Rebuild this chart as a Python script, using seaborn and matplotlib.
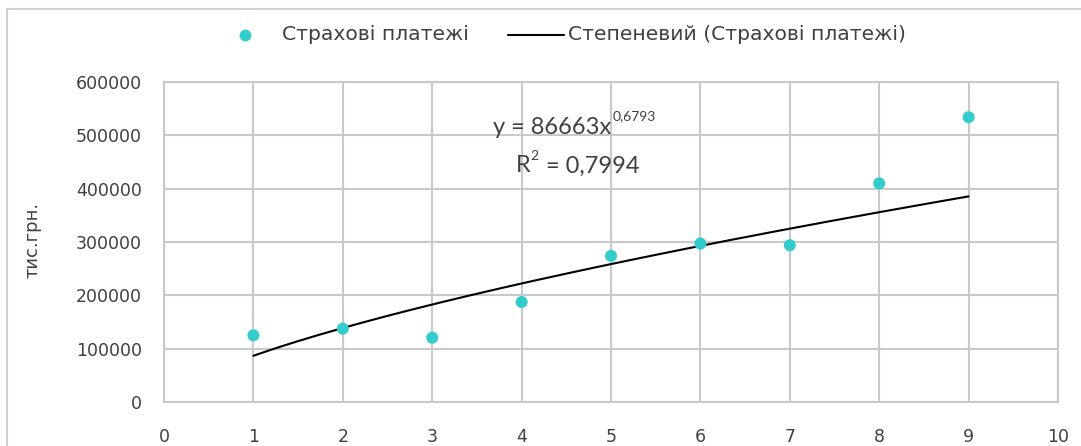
import matplotlib
matplotlib.use("Agg")
import matplotlib.pyplot as plt
from matplotlib.lines import Line2D
from matplotlib.patches import Rectangle
import numpy as np
import pandas as pd
import seaborn as sns

# Insurance payments by period (thousand UAH)
periods = [1, 2, 3, 4, 5, 6, 7, 8, 9]
payments = [125000, 137500, 120600, 187500, 274000, 297000, 294000, 410000, 534000]

# Power trendline coefficients
trend_a = 86663
trend_b = 0.6793
r_squared = "0,7994"

series_label = "Страхові платежі"
trend_label = "Степеневий (Страхові платежі)"
y_label = "тис.грн."
x_ticks = list(range(0, 11))
y_ticks = [0, 100000, 200000, 300000, 400000, 500000, 600000]

sns.set_theme(style="white")
plt.rcParams["font.family"] = ["DejaVu Sans"]

W, H = 1081, 446
fig = plt.figure(figsize=(W / 100, H / 100), dpi=100)


def fx(px):
    return px / W


def fy(py):
    return 1 - py / H


ax = fig.add_axes([fx(164), fy(402), fx(1058) - fx(164), fy(82) - fy(402)])

grid_c = "#c9c9c9"
text_c = "#404040"
point_c = "#33CCCC"
sans = ["DejaVu Sans"]
eq_font = ["Lato", "DejaVu Sans"]

df = pd.DataFrame({"period": periods, "payment": payments})
tx = np.linspace(1, 9, 200)
trend = pd.DataFrame({"period": tx, "payment": trend_a * tx ** trend_b})

sns.lineplot(data=trend, x="period", y="payment", ax=ax, color="black",
             linewidth=1.5, zorder=3)
sns.scatterplot(data=df, x="period", y="payment", ax=ax, color=point_c,
                s=75, edgecolor="none", zorder=4)

ax.set_xlim(0, 10)
ax.set_ylim(0, 600000)
ax.set_xticks(x_ticks)
ax.set_yticks(y_ticks)
ax.set_xticklabels([str(v) for v in x_ticks])
ax.set_yticklabels([str(v) for v in y_ticks])
ax.grid(True, color=grid_c, linewidth=1.5)
ax.set_axisbelow(True)
for sp in ax.spines.values():
    sp.set_color(grid_c)
    sp.set_linewidth(1.5)
ax.tick_params(axis="both", length=0, labelsize=12.5, labelcolor=text_c)
ax.tick_params(axis="y", pad=16)
ax.tick_params(axis="x", pad=19)
ax.set_xlabel("")
ax.set_ylabel("")

# Y axis title
fig.text(fx(33), fy(240), y_label, rotation=90, ha="center", va="center",
         fontsize=13, color=text_c, family=sans)

# Trendline equation and R²
fig.text(fx(493), fy(127), "y = 86663x", ha="left", va="center",
         fontsize=17, color=text_c, family=eq_font)
fig.text(fx(613), fy(116), "0,6793", ha="left", va="center",
         fontsize=10, color=text_c, family=eq_font)
fig.text(fx(516), fy(166), "R", ha="left", va="center",
         fontsize=17, color=text_c, family=eq_font)
fig.text(fx(530), fy(156), "2", ha="left", va="center",
         fontsize=10, color=text_c, family=eq_font)
fig.text(fx(546), fy(166), "= " + r_squared, ha="left", va="center",
         fontsize=17, color=text_c, family=eq_font)

# Legend, laid out along the top of the chart
leg_y = fy(35)
fig.add_artist(Line2D([fx(245)], [leg_y], linestyle="none", marker="o",
                      markersize=8.5, markerfacecolor=point_c,
                      markeredgecolor="none", transform=fig.transFigure))
fig.text(fx(282), leg_y, series_label, ha="left", va="center",
         fontsize=14.6, color=text_c, family=sans)
fig.add_artist(Line2D([fx(508), fx(564)], [leg_y, leg_y], color="black",
                      linewidth=1.5, transform=fig.transFigure))
fig.text(fx(568), leg_y, trend_label, ha="left", va="center",
         fontsize=14.6, color=text_c, family=sans)

# Chart frame
fig.patches.append(Rectangle((fx(7), fy(460)), fx(1100) - fx(7), fy(9) - fy(460),
                             transform=fig.transFigure, fill=False,
                             edgecolor="#d0d0d0", linewidth=1.5))

fig.savefig("out.png", dpi=100)
